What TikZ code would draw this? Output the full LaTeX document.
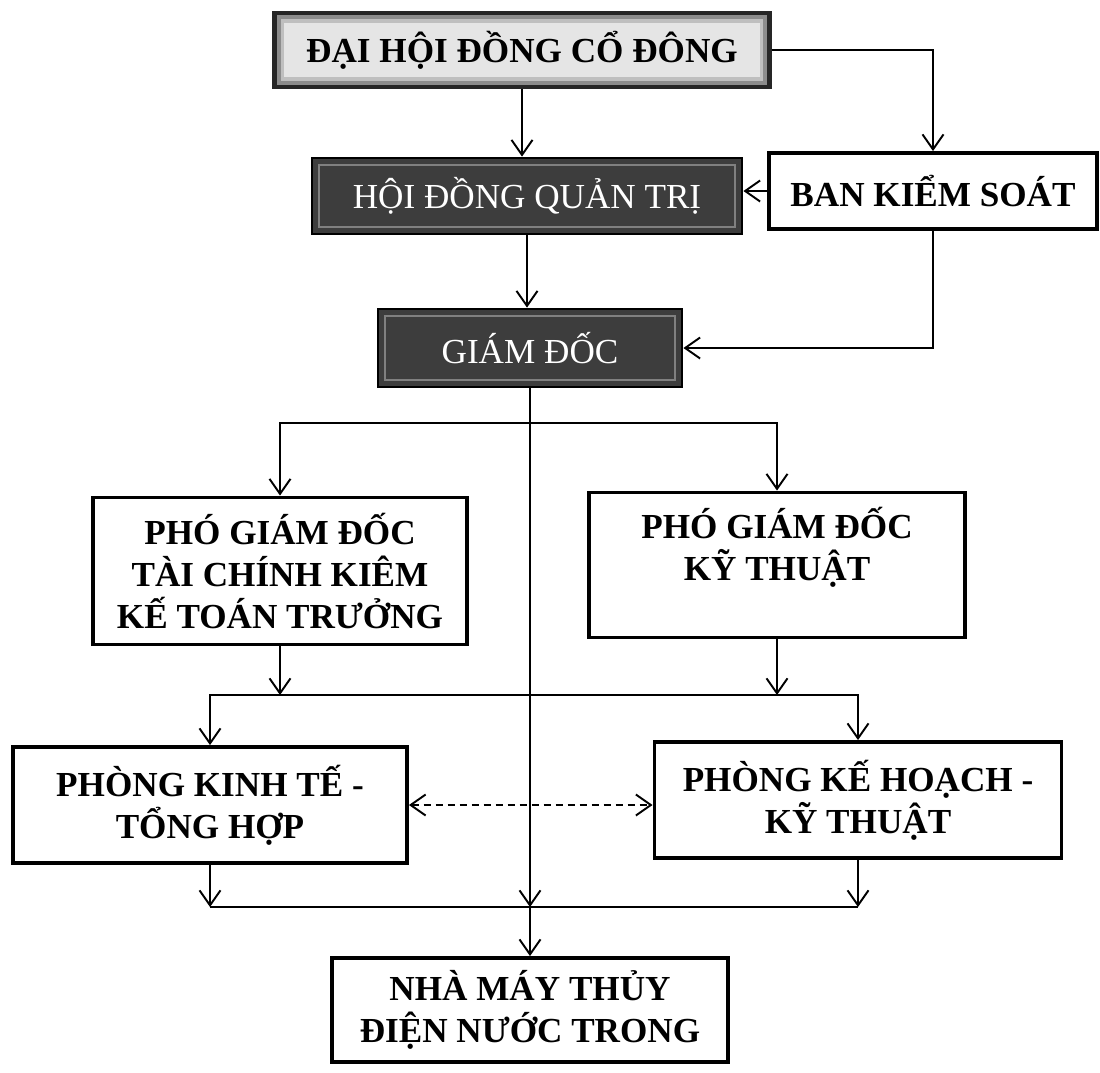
\documentclass[tikz,border=0pt]{standalone}
\usepackage{fontspec}
\setmainfont{Liberation Serif}
\usetikzlibrary{arrows.meta}

\begin{document}
\begin{tikzpicture}[x=0.2mm,y=-0.2mm,line width=1.1pt,
 b/.style={draw,line width=2.2pt,fill=white,align=center,inner sep=0pt,font=\fontsize{20}{24}\selectfont\bfseries},
 dk/.style={draw=black,line width=1.6pt,fill=black!76,text=white,inner sep=0pt,font=\fontsize{20}{24}\selectfont,
  path picture={\draw[black!50,line width=1.2pt] ([shift={(4pt,-4pt)}]path picture bounding box.north west) rectangle ([shift={(-4pt,4pt)}]path picture bounding box.south east);}},
 gm/.style={draw=black!85,line width=2.5pt,fill=black!10,inner sep=0pt,font=\fontsize{20}{24}\selectfont\bfseries,
  path picture={\draw[black!45,line width=3pt] ([shift={(2pt,-2pt)}]path picture bounding box.north west) rectangle ([shift={(-2pt,2pt)}]path picture bounding box.south east);
   \draw[black!25,line width=2pt] ([shift={(4.5pt,-4.5pt)}]path picture bounding box.north west) rectangle ([shift={(-4.5pt,4.5pt)}]path picture bounding box.south east);}},
 >={Straight Barb[length=3mm,width=4.2mm]}]
\useasboundingbox (0,0) rectangle (1100,1072);
% boxes
\node[gm,minimum width=99mm,minimum height=14.8mm] (dh) at (522,50) {ĐẠI HỘI ĐỒNG CỔ ĐÔNG};
\node[dk,minimum width=86mm,minimum height=15.2mm] (hd) at (527,196) {HỘI ĐỒNG QUẢN TRỊ};
\node[b,minimum width=65.6mm,minimum height=15.2mm] (bk) at (933,191) {BAN KIỂM SOÁT};
\node[dk,minimum width=60.8mm,minimum height=15.6mm] (gd) at (530,348) {GIÁM ĐỐC};
\node[b,minimum width=74.8mm,minimum height=29.4mm] (pt) at (280,571) {PHÓ GIÁM ĐỐC\\TÀI CHÍNH KIÊM\\KẾ TOÁN TRƯỞNG};
\node[b,minimum width=75.2mm,minimum height=29mm] (pk) at (777,565) {PHÓ GIÁM ĐỐC\\KỸ THUẬT\\\mbox{}};
\node[b,minimum width=78.8mm,minimum height=23.2mm] (kt) at (210,805) {PHÒNG KINH TẾ -\\TỔNG HỢP};
\node[b,minimum width=81.4mm,minimum height=23.2mm] (kh) at (858,800) {PHÒNG KẾ HOẠCH -\\KỸ THUẬT};
\node[b,minimum width=79.2mm,minimum height=20.8mm] (nm) at (530,1010) {NHÀ MÁY THỦY\\ĐIỆN NƯỚC TRONG};
% levels of the bus lines
\coordinate (l1) at (0,423);
\coordinate (l2) at (0,695);
\coordinate (l3) at (0,907);
% connectors
\draw[->] (dh.south) -- (dh.south |- hd.north);
\draw[->] (dh.east) -| (bk.north);
\draw[->] (bk.west) -- (bk.west -| hd.east);
\draw[->] (hd.south) -- (hd.south |- gd.north);
\draw[->] (bk.south) |- (gd.east);
\draw[->] (gd.south |- l1) -| (pt.north);
\draw[->] (gd.south |- l1) -| (pk.north);
\draw[->] (gd.south) -- (gd.south |- l3);
\draw[->] (gd.south |- l3) -- (nm.north);
\draw[->] (pt.south) -- (pt.south |- l2);
\draw[->] (pk.south) -- (pk.south |- l2);
\draw[->] (pt.south |- l2) -| (kt.north);
\draw[->] (pt.south |- l2) -| (kh.north);
\draw[<->,dash pattern=on 1.4mm off 1mm] (kt.east) -- (kt.east -| kh.west);
\draw[->] (kt.south) -- (kt.south |- l3);
\draw[->] (kh.south) -- (kh.south |- l3);
\draw (kt.south |- l3) -- (kh.south |- l3);
\end{tikzpicture}
\end{document}
